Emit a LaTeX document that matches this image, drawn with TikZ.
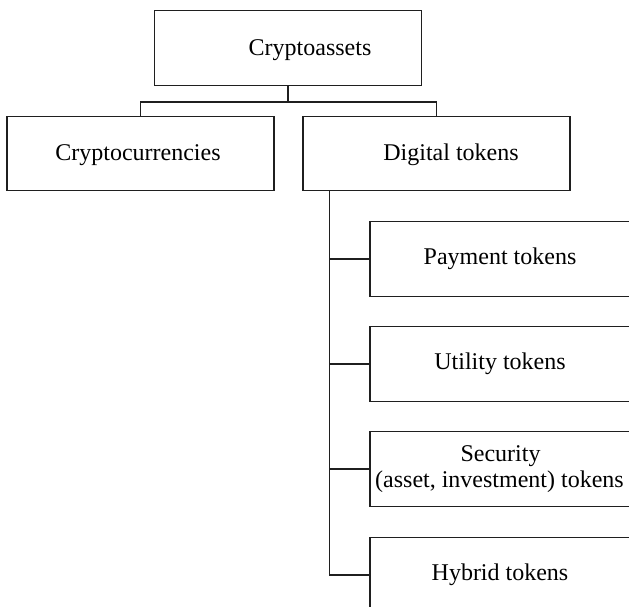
\documentclass[tikz,border=0pt]{standalone}
\usepackage{fontspec}
\setmainfont{Liberation Serif}
\usepackage{tikz}
\usetikzlibrary{positioning}
\definecolor{linecol}{gray}{0.12}

\begin{document}
\begin{tikzpicture}[x=1pt, y=-1pt,
    box/.style={draw=linecol, line width=1.3pt, minimum width=267pt, minimum height=74.5pt,
        inner sep=0pt, font=\fontsize{24}{26}\selectfont, align=center},
    link/.style={draw=linecol, line width=1.3pt}]
    \useasboundingbox (0,0) rectangle (629,607);
    \clip (0,0) rectangle (629,607);

    % 顶层
    \node[box] (assets) at (288,48) {};
    \node[font=\fontsize{24}{26}\selectfont] (assetsT) at (310,50) {Cryptoassets};

    % 第二层
    \node[box] (crypto) at (140.5,153.5) {};
    \node[font=\fontsize{24}{26}\selectfont] (cryptoT) at (138,155) {Cryptocurrencies};
    \node[box] (digital) at (436.5,153.5) {};
    \node[font=\fontsize{24}{26}\selectfont] (digitalT) at (451,155) {Digital tokens};

    \draw[link] (assets.south) -- ++(0,16) -| (crypto.north);
    \draw[link] (assets.south) -- ++(0,16) -| (digital.north);

    % 代币类型
    \node[box] (payment) at (503.5,259) {\hspace*{-7pt}Payment tokens};
    \node[box] (utility) at (503.5,364) {\hspace*{-7pt}Utility tokens};
    \node[box] (security) at (503.5,469) {\hspace*{-6pt}Security\\\hspace*{-8pt}(asset, investment) tokens};
    \node[box] (hybrid) at (503.5,575) {\hspace*{-7pt}Hybrid tokens};

    \coordinate[xshift=27pt] (trunk) at (digital.south west);
    \foreach \t in {payment, utility, security, hybrid}
        \draw[link] (trunk) |- (\t.west);
\end{tikzpicture}
\end{document}
